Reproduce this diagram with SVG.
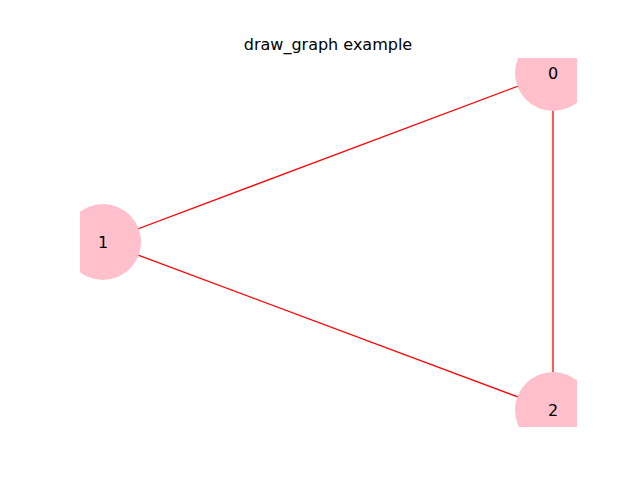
<svg xmlns="http://www.w3.org/2000/svg" width="640" height="480" viewBox="0 0 640 480">
<style>
.n{fill:#ffc0cb}
.l{font-family:"DejaVu Sans",sans-serif;font-size:16px;text-anchor:middle;dominant-baseline:central;fill:#000}
.e{stroke:#f00;stroke-width:1.3;fill:none}
</style>
<defs><clipPath id="ax"><rect x="80" y="58" width="497" height="369"/></clipPath></defs>
<rect width="640" height="480" fill="#fff"/>
<text x="328" y="44" style="font-family:'DejaVu Sans',sans-serif;font-size:16px;text-anchor:middle;dominant-baseline:central">draw_graph example</text>
<g clip-path="url(#ax)">
<g id="edges">
<line class="e" x1="553" y1="73" x2="103" y2="242"/>
<line class="e" x1="553" y1="73" x2="553" y2="410"/>
<line class="e" x1="103" y1="242" x2="553" y2="410"/>
</g>
<g id="node0"><circle class="n" cx="553" cy="73" r="38"/></g>
<g id="node1"><circle class="n" cx="103" cy="242" r="38"/></g>
<g id="node2"><circle class="n" cx="553" cy="410" r="38"/></g>
</g>
<text class="l" x="553" y="73">0</text>
<text class="l" x="103" y="242">1</text>
<text class="l" x="553" y="410">2</text>
</svg>
